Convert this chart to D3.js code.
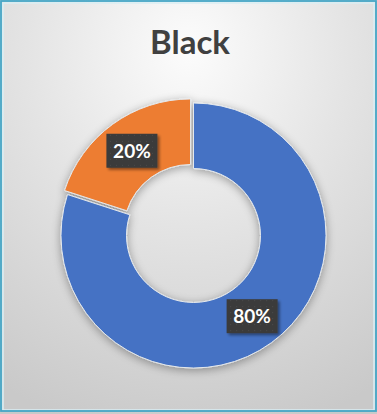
<!DOCTYPE html>
<html>
<head>
<meta charset="utf-8">
<script src="https://cdn.jsdelivr.net/npm/d3@7"></script>
<style>
  html, body { margin: 0; padding: 0; background: #ffffff; }
  svg { display: block; }
</style>
</head>
<body>
<svg id="chart" width="377" height="414"></svg>
<script>
// Chart data
const title = "Black";
const categories = ["A", "B"];
const values = [80, 20];
const labels = ["80%", "20%"];
const colors = ["#4472c4", "#ed7d31"];
const explodedIndex = 1;

const W = 377, H = 414;
const cx = 193.5, cy = 235.5;
const outerR = 132.5, innerR = 67;
const explode = 5;

const svg = d3.select("#chart");
const defs = svg.append("defs");

// Background radial gradient
const bg = defs.append("radialGradient")
  .attr("id", "bgGrad")
  .attr("cx", "50%").attr("cy", "12%").attr("r", "95%")
  .attr("fx", "50%").attr("fy", "12%");
bg.append("stop").attr("offset", "0%").attr("stop-color", "#fcfcfc");
bg.append("stop").attr("offset", "45%").attr("stop-color", "#e4e4e4");
bg.append("stop").attr("offset", "100%").attr("stop-color", "#c9c9c9");

// Soft shadow for the ring
const sh = defs.append("filter").attr("id", "ringShadow")
  .attr("x", "-20%").attr("y", "-20%").attr("width", "140%").attr("height", "140%");
sh.append("feGaussianBlur").attr("in", "SourceAlpha").attr("stdDeviation", 5).attr("result", "b");
sh.append("feOffset").attr("in", "b").attr("dx", 0).attr("dy", 2).attr("result", "o");
sh.append("feComponentTransfer").attr("in", "o").attr("result", "s")
  .append("feFuncA").attr("type", "linear").attr("slope", 0.35);
const shm = sh.append("feMerge");
shm.append("feMergeNode").attr("in", "s");
shm.append("feMergeNode").attr("in", "SourceGraphic");

// Label box shadow
const ls = defs.append("filter").attr("id", "labelShadow")
  .attr("x", "-20%").attr("y", "-20%").attr("width", "150%").attr("height", "150%");
ls.append("feGaussianBlur").attr("in", "SourceAlpha").attr("stdDeviation", 1.8).attr("result", "b");
ls.append("feOffset").attr("in", "b").attr("dx", 2).attr("dy", 2).attr("result", "o");
ls.append("feComponentTransfer").attr("in", "o").attr("result", "s")
  .append("feFuncA").attr("type", "linear").attr("slope", 0.45);
const lsm = ls.append("feMerge");
lsm.append("feMergeNode").attr("in", "s");
lsm.append("feMergeNode").attr("in", "SourceGraphic");

// Dotted texture for label boxes
const pat = defs.append("pattern").attr("id", "dots")
  .attr("width", 6).attr("height", 6).attr("patternUnits", "userSpaceOnUse");
pat.append("rect").attr("width", 6).attr("height", 6).attr("fill", "#3a3a3a");
pat.append("rect").attr("x", 2).attr("y", 2).attr("width", 1).attr("height", 1).attr("fill", "#4d4d4d");

// Background and frame
svg.append("rect").attr("width", W).attr("height", H).attr("fill", "url(#bgGrad)");
svg.append("rect").attr("x", 3).attr("y", 3).attr("width", W - 6).attr("height", H - 7)
  .attr("fill", "none").attr("stroke", "#d9eef4").attr("stroke-width", 1.5);
svg.append("rect").attr("x", 1).attr("y", 1).attr("width", W - 2).attr("height", H - 4)
  .attr("fill", "none").attr("stroke", "#45a6c6").attr("stroke-width", 1.8);

// Title
svg.append("text")
  .attr("x", 190).attr("y", 54)
  .attr("text-anchor", "middle")
  .attr("font-family", "Lato, 'Open Sans', sans-serif")
  .attr("font-weight", 700)
  .attr("font-size", 33)
  .attr("fill", "#404040")
  .text(title);

// Donut
const color = d3.scaleOrdinal().domain(categories).range(colors);
const pie = d3.pie().sort(null).value(d => d.value);
const arcs = pie(categories.map((c, i) => ({ cat: c, value: values[i], label: labels[i] })));
const arc = d3.arc().innerRadius(innerR).outerRadius(outerR);
const labelArc = d3.arc().innerRadius((innerR + outerR) / 2).outerRadius((innerR + outerR) / 2);

function offsetOf(d, i) {
  if (i !== explodedIndex) return [0, 0];
  const a = (d.startAngle + d.endAngle) / 2;
  return [explode * Math.sin(a), -explode * Math.cos(a)];
}

const ring = svg.append("g")
  .attr("transform", `translate(${cx},${cy})`)
  .attr("filter", "url(#ringShadow)");

ring.selectAll("path")
  .data(arcs)
  .join("path")
  .attr("transform", (d, i) => { const o = offsetOf(d, i); return `translate(${o[0]},${o[1]})`; })
  .attr("d", arc)
  .attr("fill", d => color(d.data.cat))
  .attr("stroke", "#e4e8ec")
  .attr("stroke-width", 1);

// Data labels
const lab = svg.append("g").attr("transform", `translate(${cx},${cy})`);
const boxW = 51, boxH = 34;
const lg = lab.selectAll("g.lbl")
  .data(arcs)
  .join("g")
  .attr("class", "lbl")
  .attr("transform", (d, i) => {
    const c = labelArc.centroid(d);
    const o = offsetOf(d, i);
    return `translate(${c[0] + o[0]},${c[1] + o[1]})`;
  });
lg.append("rect")
  .attr("x", -boxW / 2).attr("y", -boxH / 2)
  .attr("width", boxW).attr("height", boxH)
  .attr("fill", "url(#dots)")
  .attr("filter", "url(#labelShadow)");
lg.append("text")
  .attr("text-anchor", "middle")
  .attr("dy", "0.36em")
  .attr("font-family", "Lato, 'Open Sans', sans-serif")
  .attr("font-weight", 700)
  .attr("font-size", 19)
  .attr("fill", "#ffffff")
  .text(d => d.data.label);
</script>
</body>
</html>
